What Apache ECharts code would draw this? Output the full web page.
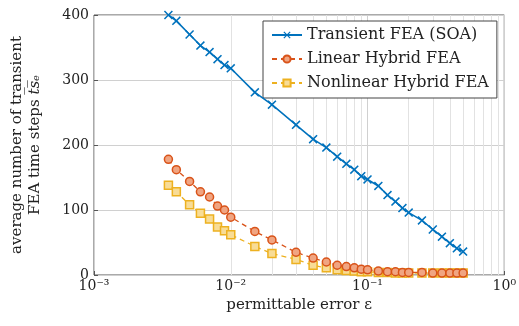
<!DOCTYPE html>
<html>
<head>
<meta charset="utf-8">
<script src="https://cdn.jsdelivr.net/npm/echarts@6/dist/echarts.min.js"></script>
<style>html,body{margin:0;padding:0;background:#fff}#c{width:519px;height:326px}</style>
</head>
<body>
<div id="c"></div>
<script>
const epsilon = [0.0035, 0.004, 0.005, 0.006, 0.007, 0.008, 0.009, 0.01, 0.015, 0.02, 0.03, 0.04, 0.05, 0.06, 0.07, 0.08, 0.09, 0.1, 0.12, 0.14, 0.16, 0.18, 0.2, 0.25, 0.3, 0.35, 0.4, 0.45, 0.5];
const transientFEA = [400, 391, 370, 353, 343, 332, 323, 318, 281, 262, 231, 209, 196, 182, 171, 162, 152, 147, 137, 123, 113, 103, 96, 84, 70, 59, 49, 41, 36];
const linearHybrid = [178, 162, 144, 128, 120, 106, 100, 89, 67, 54, 35, 26, 20, 15, 13, 11, 9, 8, 6, 5, 5, 4, 4, 4, 3, 3, 3, 3, 3];
const nonlinearHybrid = [138, 128, 108, 95, 86, 74, 68, 62, 44, 33, 24, 15, 11, 8, 7, 6, 5, 5, 4, 4, 3, 3, 3, 3, 3, 3, 3, 3, 3];
const minorGridX = [0.002,0.003,0.004,0.005,0.006,0.007,0.008,0.009,0.02,0.03,0.04,0.05,0.06,0.07,0.08,0.09,0.2,0.3,0.4,0.5,0.6,0.7,0.8,0.9];
const yTicks = [0, 100, 200, 300, 400];

const sup = {'-':'⁻','0':'⁰','1':'¹','2':'²','3':'³'};
const FONT = 'DejaVu Serif';
const pairs = arr => epsilon.map((e, i) => [e, arr[i]]);
const crossPath = 'path://M0,1.2 L1.2,0 L5,3.8 L8.8,0 L10,1.2 L6.2,5 L10,8.8 L8.8,10 L5,6.2 L1.2,10 L0,8.8 L3.8,5 Z';

const chart = echarts.init(document.getElementById('c'), null, {renderer: 'canvas'});
chart.setOption({
  animation: false,
  backgroundColor: '#fff',
  textStyle: {fontFamily: FONT, color: '#222'},
  grid: {left: 91, right: 11, top: 15, bottom: 51, show: true, borderColor: '#555', borderWidth: 1, backgroundColor: 'transparent'},
  legend: {
    orient: 'vertical', left: 263, top: 21, padding: [6, 8, 7, 8],
    itemWidth: 30, itemHeight: 9, itemGap: 8,
    backgroundColor: '#fff', borderColor: '#444', borderWidth: 1,
    textStyle: {fontFamily: FONT, fontSize: 16, color: '#222'},
    data: ['Transient FEA (SOA)', 'Linear Hybrid FEA', 'Nonlinear Hybrid FEA']
  },
  xAxis: {
    type: 'log', logBase: 10, min: 0.001, max: 1,
    name: 'permittable error ε', nameLocation: 'middle', nameGap: 19,
    nameTextStyle: {fontFamily: FONT, fontSize: 15, color: '#222'},
    axisLine: {show: false}, axisTick: {inside: true, length: 4, lineStyle: {color: '#555'}},
    axisLabel: {fontFamily: FONT, fontSize: 14, color: '#222', margin: 4,
      formatter: v => '10' + String(Math.round(Math.log10(v))).split('').map(c => sup[c]).join('')},
    splitLine: {show: true, lineStyle: {color: '#d0d0d0', width: 1}}
  },
  yAxis: {
    type: 'value', min: 0, max: 400, interval: 100,
    name: 'average number of transient\nFEA time steps {it|t̅s̅ₑ}', nameLocation: 'middle', nameGap: 50,
    nameTextStyle: {fontFamily: FONT, fontSize: 15, color: '#222', lineHeight: 18,
      rich: {it: {fontFamily: FONT, fontSize: 15, fontStyle: 'italic', color: '#222'}}},
    axisLine: {show: false}, axisTick: {inside: true, length: 4, lineStyle: {color: '#555'}},
    axisLabel: {fontFamily: FONT, fontSize: 14, color: '#222', margin: 5,
      formatter: v => yTicks.includes(v) ? String(v) : ''},
    splitLine: {show: true, lineStyle: {color: '#d0d0d0', width: 1}}
  },
  series: [
    {
      name: 'Transient FEA (SOA)', type: 'line', data: pairs(transientFEA),
      symbol: crossPath, symbolSize: 9, z: 5,
      lineStyle: {color: '#0072BD', width: 1.6},
      itemStyle: {color: '#0072BD'},
      markLine: {silent: true, symbol: 'none', label: {show: false}, z: 1,
        lineStyle: {color: '#e2e2e2', type: 'solid', width: 1},
        data: minorGridX.map(x => ({xAxis: x}))}
    },
    {
      name: 'Linear Hybrid FEA', type: 'line', data: pairs(linearHybrid),
      symbol: 'circle', symbolSize: 8, z: 4,
      lineStyle: {color: '#D95319', width: 1.3, type: [5, 4]},
      itemStyle: {color: '#F0A582', borderColor: '#D95319', borderWidth: 1.5}
    },
    {
      name: 'Nonlinear Hybrid FEA', type: 'line', data: pairs(nonlinearHybrid),
      symbol: 'rect', symbolSize: 8, z: 3,
      lineStyle: {color: '#EDB120', width: 1.3, type: [5, 4]},
      itemStyle: {color: '#F8DC96', borderColor: '#EDB120', borderWidth: 1.5}
    }
  ]
});
</script>
</body>
</html>
